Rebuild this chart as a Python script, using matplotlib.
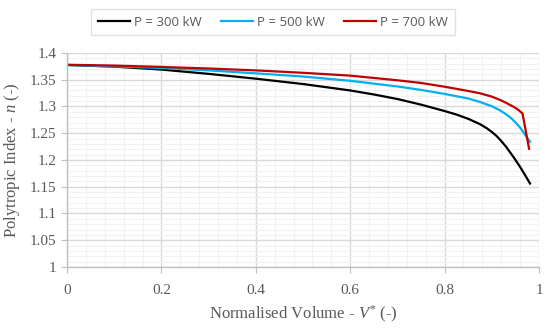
#!/usr/bin/env python3
"""Polytropic index vs normalised volume for three power levels."""
import matplotlib
matplotlib.use("Agg")
import matplotlib.pyplot as plt
from matplotlib.ticker import MultipleLocator

x_300 = [0.0, 0.1, 0.2, 0.3, 0.4, 0.5, 0.6, 0.65, 0.7, 0.75, 0.8, 0.825,
         0.85, 0.875, 0.89, 0.9, 0.91, 0.92, 0.93, 0.946, 0.96, 0.97, 0.981]
n_300 = [1.3776, 1.3745, 1.369, 1.361, 1.352, 1.342, 1.330, 1.3225, 1.314,
         1.3035, 1.2915, 1.285, 1.277, 1.267, 1.259, 1.2525, 1.245,
         1.2355, 1.225, 1.2055, 1.187, 1.1725, 1.156]

x_500 = [0.0, 0.1, 0.2, 0.3, 0.4, 0.5, 0.6, 0.7, 0.75, 0.8, 0.85, 0.875,
         0.9, 0.917, 0.93, 0.94, 0.95, 0.96, 0.97, 0.981]
n_500 = [1.3776, 1.375, 1.372, 1.3675, 1.362, 1.356, 1.348, 1.3375, 1.331,
         1.3235, 1.315, 1.3085, 1.3005, 1.293, 1.2855, 1.279, 1.2705, 1.2605,
         1.248, 1.234]

x_700 = [0.0, 0.1, 0.2, 0.3, 0.4, 0.5, 0.6, 0.7, 0.75, 0.8, 0.85, 0.875,
         0.9, 0.917, 0.93, 0.946, 0.955, 0.965, 0.979]
n_700 = [1.378, 1.3765, 1.374, 1.371, 1.3675, 1.363, 1.3577, 1.349, 1.344,
         1.337, 1.329, 1.3247, 1.3185, 1.3125, 1.307, 1.2995, 1.2945, 1.287,
         1.221]

labels = ["P = 300 kW", "P = 500 kW", "P = 700 kW"]
colors = ["black", "#00b0f0", "#c00000"]

grey = "#595959"
serif = ["Liberation Serif", "DejaVu Serif"]
plt.rcParams["mathtext.fontset"] = "custom"
plt.rcParams["mathtext.it"] = "Liberation Serif:italic"
plt.rcParams["mathtext.rm"] = "Liberation Serif"

fig = plt.figure(figsize=(5.5, 3.31), dpi=100)
ax = fig.add_axes([67 / 550, 1 - 267 / 331, 472 / 550, 214 / 331])

for xs, ys, lab, c in zip([x_300, x_500, x_700], [n_300, n_500, n_700],
                          labels, colors):
    ax.plot(xs, ys, color=c, lw=1.6, label=lab, solid_joinstyle="round")

ax.set_xlim(0, 1)
ax.set_ylim(1, 1.4)
ax.xaxis.set_major_locator(MultipleLocator(0.2))
ax.xaxis.set_minor_locator(MultipleLocator(0.04))
ax.yaxis.set_major_locator(MultipleLocator(0.05))
ax.yaxis.set_minor_locator(MultipleLocator(0.01))
ax.xaxis.set_major_formatter(plt.FuncFormatter(lambda v, p: f"{v:g}"))
ax.yaxis.set_major_formatter(plt.FuncFormatter(lambda v, p: f"{v:g}"))

ax.grid(True, which="major", color="#d9d9d9", lw=1.0)
ax.grid(True, which="minor", color="#f2f2f2", lw=0.8)
ax.set_axisbelow(True)

for s in ("top", "right"):
    ax.spines[s].set_visible(False)
for s in ("left", "bottom"):
    ax.spines[s].set_color("#bfbfbf")
    ax.spines[s].set_linewidth(1.0)

ax.tick_params(which="major", length=4, color="#bfbfbf", labelcolor=grey,
               labelsize=11)
ax.tick_params(which="minor", length=0)
ax.tick_params(axis="x", pad=8)
for t in ax.get_xticklabels() + ax.get_yticklabels():
    t.set_family(serif)

ax.set_xlabel("Normalised Volume - $\\mathit{V}^{*}$ (-)", family=serif,
              fontsize=12, color=grey, labelpad=5)
ax.set_ylabel("Polytropic Index - $\\mathit{n}$ (-)", family=serif,
              fontsize=12, color=grey, labelpad=6)

leg = fig.legend(loc="center", bbox_to_anchor=(273 / 550, 1 - 22 / 331),
                 ncol=3, frameon=True, fancybox=False,
                 handlelength=2.4, handletextpad=0.3, columnspacing=1.5,
                 borderpad=0.5, prop={"family": "Open Sans", "size": 9.5})
leg.get_frame().set_edgecolor("#d9d9d9")
leg.get_frame().set_linewidth(1.0)
for t in leg.get_texts():
    t.set_color(grey)

fig.savefig("out.png", dpi=100)
